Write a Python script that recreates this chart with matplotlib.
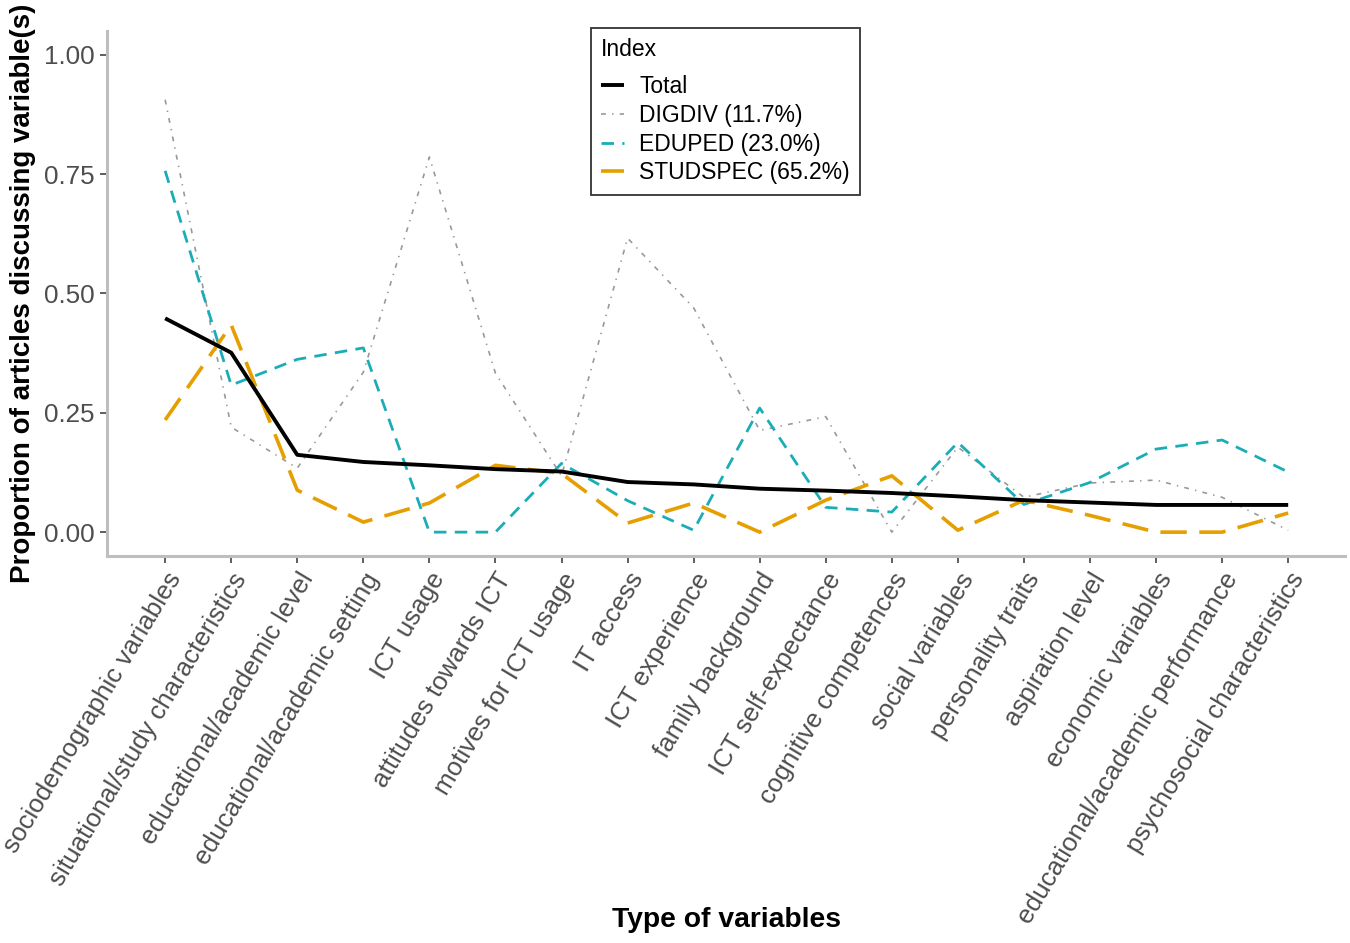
import matplotlib
matplotlib.use("Agg")
import matplotlib.pyplot as plt

plt.rcParams['font.family'] = ['Liberation Sans', 'DejaVu Sans']
plt.rcParams['lines.scale_dashes'] = False

# categories, in plot order
categories = [
    "sociodemographic variables", "situational/study characteristics",
    "educational/academic level", "educational/academic setting",
    "ICT usage", "attitudes towards ICT", "motives for ICT usage",
    "IT access", "ICT experience", "family background",
    "ICT self-expectance", "cognitive competences", "social variables",
    "personality traits", "aspiration level", "economic variables",
    "educational/academic performance", "psychosocial characteristics",
]

total = [0.448, 0.376, 0.162, 0.147, 0.140, 0.132, 0.127, 0.105, 0.100,
         0.091, 0.087, 0.082, 0.075, 0.067, 0.062, 0.057, 0.057, 0.057]
digdiv = [0.906, 0.220, 0.134, 0.335, 0.786, 0.333, 0.118, 0.616, 0.470,
          0.213, 0.242, 0.000, 0.178, 0.073, 0.103, 0.109, 0.073, 0.004]
eduped = [0.757, 0.308, 0.362, 0.386, 0.000, 0.000, 0.144, 0.066, 0.004,
          0.260, 0.052, 0.042, 0.188, 0.058, 0.104, 0.174, 0.193, 0.126]
studspec = [0.235, 0.434, 0.088, 0.021, 0.061, 0.140, 0.123, 0.019, 0.061,
            0.000, 0.067, 0.118, 0.004, 0.067, 0.035, 0.000, 0.000, 0.040]

fig = plt.figure(figsize=(13.5, 9.43), dpi=100)
ax = fig.add_axes([107/1350, 1-556/943, 1238/1350, 525/943])

x = list(range(len(categories)))
ax.plot(x, total, color="black", lw=2.8, solid_capstyle="butt", label="Total", zorder=5)
ax.plot(x, digdiv, color="#999999", lw=1.2, dashes=(3.5, 4.5, 1, 4.5), label="DIGDIV (11.7%)")
ax.plot(x, eduped, color="#1AADB8", lw=2.0, dashes=(9, 6), label="EDUPED (23.0%)")
ax.plot(x, studspec, color="#E69F00", lw=2.6, dashes=(19, 9), label="STUDSPEC (65.2%)")

ax.set_xlim(-0.88, 17.86)
ax.set_ylim(-0.05, 1.05)
ax.set_yticks([0, 0.25, 0.5, 0.75, 1.0])
ax.set_yticklabels(["0.00", "0.25", "0.50", "0.75", "1.00"])
ax.set_xticks(x)
ax.set_xticklabels(categories, rotation=59, ha="right", rotation_mode="anchor")

for s in ["top", "right"]:
    ax.spines[s].set_visible(False)
for s in ["left", "bottom"]:
    ax.spines[s].set_color("#BEBEBE")
    ax.spines[s].set_linewidth(2.2)

ax.tick_params(axis="both", labelsize=18.7, labelcolor="#4D4D4D", color="#333333",
               length=5, width=1.1, pad=4)

ax.set_xlabel("Type of variables", fontsize=20.3, fontweight="bold")
ax.set_ylabel("Proportion of articles discussing variable(s)", fontsize=20, fontweight="bold")
ax.xaxis.set_label_coords(0.5, -0.669)
ax.yaxis.set_label_coords(-0.057, 0.5)

leg = ax.legend(title="Index", loc="upper left", bbox_to_anchor=(591/1350, 1-28/943),
                bbox_transform=fig.transFigure, borderaxespad=0, fontsize=16.5,
                title_fontsize=16.5, frameon=True, fancybox=False, edgecolor="black",
                handlelength=1.0, handletextpad=0.65, labelspacing=0.25, borderpad=0.45,
                alignment="left")
leg.get_frame().set_linewidth(1.3)
leg._legend_box.sep = 10

fig.savefig("out.png", dpi=100)
